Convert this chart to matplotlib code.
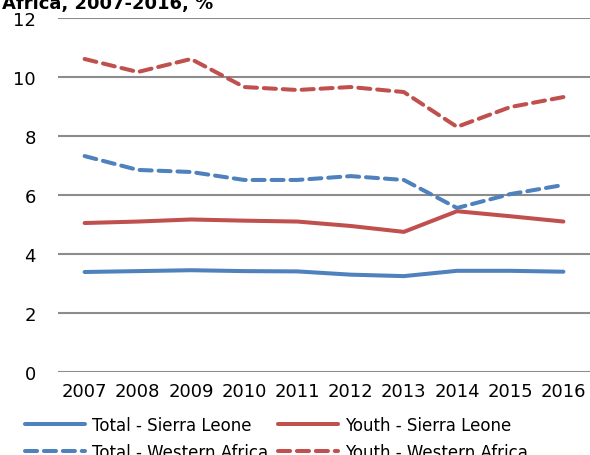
import matplotlib
matplotlib.use("Agg")
import matplotlib.pyplot as plt
import numpy as np

years = ["2007", "2008", "2009", "2010", "2011", "2012", "2013", "2014", "2015", "2016"]
total_sl = [3.39, 3.42, 3.45, 3.42, 3.41, 3.30, 3.25, 3.43, 3.43, 3.40]
youth_sl = [5.05, 5.10, 5.17, 5.13, 5.10, 4.95, 4.75, 5.45, 5.28, 5.10]
total_wa = [7.32, 6.85, 6.78, 6.51, 6.51, 6.64, 6.51, 5.56, 6.03, 6.34]
youth_wa = [10.61, 10.17, 10.61, 9.66, 9.56, 9.66, 9.49, 8.31, 8.98, 9.32]

blue = "#4F81BD"
red = "#C0504D"

fig = plt.figure(figsize=(5.9, 4.56), dpi=100)
ax = fig.add_axes([58 / 590, 1 - 373 / 456, 532 / 590, 354 / 456])

x = np.arange(len(years))
l1, = ax.plot(x, total_sl, color=blue, lw=2.9, solid_capstyle="round", label="Total - Sierra Leone")
l2, = ax.plot(x, youth_sl, color=red, lw=2.9, solid_capstyle="round", label="Youth - Sierra Leone")
l3, = ax.plot(x, total_wa, color=blue, lw=2.9, dashes=(3, 1.7), dash_capstyle="round",
              label="Total - Western Africa")
l4, = ax.plot(x, youth_wa, color=red, lw=2.9, dashes=(3, 1.7), dash_capstyle="round",
              label="Youth - Western Africa")

ax.set_xlim(-0.5, 9.5)
ax.set_ylim(0, 12)
ax.set_yticks(range(0, 13, 2))
ax.set_xticks(x)
ax.set_xticklabels(years)
ax.tick_params(axis="both", length=0, labelsize=13)
ax.tick_params(axis="y", pad=16)
ax.tick_params(axis="x", pad=7)
ax.grid(axis="y", color="#8c8c8c", lw=1.5)
ax.set_axisbelow(True)
for s in ax.spines.values():
    s.set_visible(False)

fig.text(0.003, 1 - 9 / 456, "Africa, 2007-2016, %", fontsize=13, fontweight="bold",
         va="baseline", ha="left")

# legend rows: Total/Youth Sierra Leone, then Total/Youth Western Africa
handles = [l1, l3, l2, l4]
fig.legend(handles, [h.get_label() for h in handles], ncol=2, loc="upper left",
           bbox_to_anchor=(25 / 590, 1 - 417 / 456),
           frameon=False, fontsize=12, handlelength=3.6, handletextpad=0.45,
           columnspacing=0.55, labelspacing=0.55, borderaxespad=0, borderpad=0)

fig.savefig("out.png", dpi=100)
